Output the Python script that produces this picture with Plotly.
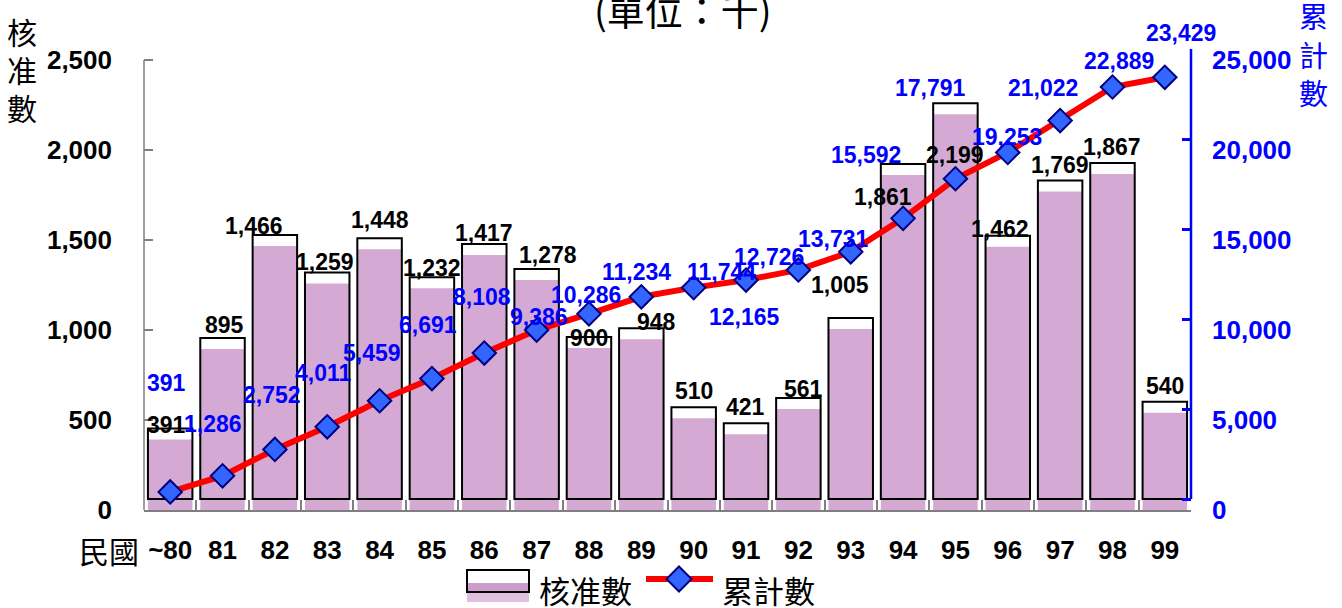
import plotly.graph_objects as go

# ---------------- data ----------------
years = ["~80", "81", "82", "83", "84", "85", "86", "87", "88", "89",
         "90", "91", "92", "93", "94", "95", "96", "97", "98", "99"]
approved = [391, 895, 1466, 1259, 1448, 1232, 1417, 1278, 900, 948,
            510, 421, 561, 1005, 1861, 2199, 1462, 1769, 1867, 540]
cumulative = [391, 1286, 2752, 4011, 5459, 6691, 8108, 9386, 10286, 11234,
              11744, 12165, 12726, 13731, 15592, 17791, 19253, 21022, 22889, 23429]
left_ticks = [0, 500, 1000, 1500, 2000, 2500]
right_ticks = [0, 5000, 10000, 15000, 20000, 25000]

# label offsets (pixels) reproducing the original label placement
bar_dx = [-4, 1.5, -21, -2, 0, 0, 0, 11, 0, 15, 0, -1, 5, -11, -20, 0, -8, 0, 0, 0]
bar_dy = [-15, -24, -20, -21, -29, -20, -22, -25, -10, -17, -27, -27, -20, -44, 22, 41, -18, -27, -27, -27]
cum_dx = [-4, -9.5, -3, -4, -8, -4, -2, 2, -3, -5, 28, -1.5, -29, -17, -37, -25, -1, -17, 7, 16]
cum_dy = [-109, -52, -54.5, -54, -48, -54, -56, -13, -19, -25, -16, 37, -13, -13, -63, -91, -15, -33, -26, -44]

# ---------------- layout geometry ----------------
W, H = 1342, 608
ML, MR, MT, MB = 144, 151, 49, 98
PW, PH = W - ML - MR, H - MT - MB
depth_px = 11                       # pseudo-3D offset of the bar outline
left_px_per_unit = 450 / 2500
right_px_per_unit = 450 / 25000
left_range = [0, PH / left_px_per_unit]
right_range = [-depth_px / right_px_per_unit, (PH - depth_px) / right_px_per_unit]
label_range = [0, PH / left_px_per_unit * 10]
outline_base = depth_px / left_px_per_unit


def px(x):
    return (x - ML) / PW


def py(y):
    return (H - MB - y) / PH


NUM = "Liberation Sans, Arial, sans-serif"
CJK = "Noto Sans CJK TC, Noto Sans CJK SC, sans-serif"
PURPLE = "#D4AAD4"
PURPLE_DARK = "#CC9CCC"
PURPLE_LIGHT = "#E0C0E0"
BLUE = "#0000FF"
GRAY = "#7F7F7F"

fig = go.Figure()
fig.add_trace(go.Bar(
    x=years, y=approved, width=0.85, yaxis="y",
    marker=dict(color=PURPLE, line=dict(width=0)),
    name="核准數", showlegend=False,
))
fig.add_trace(go.Bar(
    x=years, y=approved, base=outline_base, width=0.85, yaxis="y",
    marker=dict(color="rgba(0,0,0,0)", line=dict(color="black", width=2)),
    name="核准數", showlegend=False, hoverinfo="skip",
))
fig.add_trace(go.Scatter(
    x=years, y=cumulative, yaxis="y2", mode="lines+markers",
    line=dict(color="#FF0000", width=6),
    marker=dict(symbol="diamond", size=18, color="#3366FF",
                line=dict(color="#000080", width=2)),
    name="累計數", showlegend=False, cliponaxis=False,
))
fig.add_trace(go.Scatter(
    x=[years[0]], y=[0], yaxis="y3", mode="markers",
    marker=dict(opacity=0), showlegend=False, hoverinfo="skip",
))

annotations = []
for i, v in enumerate(approved):
    annotations.append(dict(
        x=i, y=v, xref="x", yref="y", text=f"{v:,}", showarrow=False,
        xshift=bar_dx[i], yshift=-bar_dy[i], xanchor="center", yanchor="middle",
        font=dict(family=NUM, size=23, color="black", weight="bold"),
    ))
for i, v in enumerate(cumulative):
    annotations.append(dict(
        x=i, y=v, xref="x", yref="y2", text=f"{v:,}", showarrow=False,
        xshift=cum_dx[i], yshift=-cum_dy[i], xanchor="center", yanchor="middle",
        font=dict(family=NUM, size=23, color=BLUE, weight="bold"),
    ))


def txt(t, x, y, size, color="black", anchor="center", family=CJK, weight="normal"):
    annotations.append(dict(
        x=px(x), y=py(y), xref="paper", yref="paper", text=t, showarrow=False,
        xanchor=anchor, yanchor="middle", yshift=0.1 * size,
        font=dict(family=family, size=size, color=color, weight=weight),
    ))


txt("(單位：千)", 683, 12, 38)
for ch, yy in zip("核准數", [34, 72, 110]):
    txt(ch, 22, yy, 30)
for ch, yy in zip("累計數", [18, 57, 95]):
    txt(ch, 1313, yy, 29, color=BLUE)
txt("民國", 109, 553, 30)
txt("核准數", 537, 593, 31, anchor="left")
txt("累計數", 720, 593, 31, anchor="left")

shapes = [
    # left axis line (0 .. 2,500)
    dict(type="line", xref="paper", yref="y", x0=0, x1=0, y0=0, y1=2500,
         line=dict(color=GRAY, width=1.5)),
    # right axis line (0 .. 25,000)
    dict(type="line", xref="paper", yref="y2", x0=1, x1=1, y0=0, y1=25000,
         line=dict(color=BLUE, width=2.5)),
    # legend: bar symbol
    dict(type="rect", xref="paper", yref="paper", x0=px(467), x1=px(529),
         y0=py(602), y1=py(592), fillcolor=PURPLE_LIGHT, line=dict(width=0)),
    dict(type="rect", xref="paper", yref="paper", x0=px(467), x1=px(529),
         y0=py(592), y1=py(583), fillcolor=PURPLE_DARK, line=dict(width=0)),
    dict(type="rect", xref="paper", yref="paper", x0=px(467), x1=px(529),
         y0=py(592), y1=py(570), fillcolor="rgba(0,0,0,0)",
         line=dict(color="black", width=2)),
    # legend: line symbol
    dict(type="line", xref="paper", yref="paper", x0=px(646), x1=px(713),
         y0=py(579), y1=py(579), line=dict(color="#FF0000", width=6)),
    dict(type="path", xref="paper", yref="paper",
         path=(f"M {px(679)} {py(566.5)} L {px(691.5)} {py(579)} "
               f"L {px(679)} {py(591.5)} L {px(666.5)} {py(579)} Z"),
         fillcolor="#3366FF", line=dict(color="#000080", width=2)),
]

fig.update_layout(
    width=W, height=H,
    margin=dict(l=ML, r=MR, t=MT, b=MB, pad=0),
    paper_bgcolor="white", plot_bgcolor="white",
    barmode="overlay", bargap=0.15,
    showlegend=False,
    annotations=annotations, shapes=shapes,
    xaxis=dict(
        type="category", categoryorder="array", categoryarray=years,
        range=[-0.5, len(years) - 0.5], autorange=False,
        showline=True, linecolor=GRAY, linewidth=1.5,
        ticks="inside", tickson="boundaries", ticklen=10, tickcolor=GRAY, tickwidth=1.5,
        tickfont=dict(family=NUM, size=26, color="black", weight="bold"),
        tickangle=0, ticklabelstandoff=16, showgrid=False, zeroline=False,
    ),
    yaxis=dict(
        range=left_range, autorange=False, tickvals=left_ticks, tickformat=",",
        showline=False, ticks="inside", ticklen=9, tickcolor=GRAY, tickwidth=1.5,
        tickfont=dict(family=NUM, size=26, color="black", weight="bold"),
        ticklabelstandoff=31, showgrid=False, zeroline=False,
    ),
    yaxis2=dict(
        range=right_range, autorange=False, tickvals=right_ticks,
        overlaying="y", side="right",
        showticklabels=False, showline=False,
        ticks="inside", ticklen=9, tickcolor=BLUE, tickwidth=2.5,
        showgrid=False, zeroline=False,
    ),
    yaxis3=dict(
        range=label_range, autorange=False, tickvals=right_ticks, tickformat=",",
        overlaying="y", side="right", showline=False, ticks="",
        tickfont=dict(family=NUM, size=26, color=BLUE, weight="bold"),
        ticklabelstandoff=20, showgrid=False, zeroline=False,
    ),
)

fig.write_html("out.html", config={"displayModeBar": False},
               post_script="document.body.style.margin='0';")
